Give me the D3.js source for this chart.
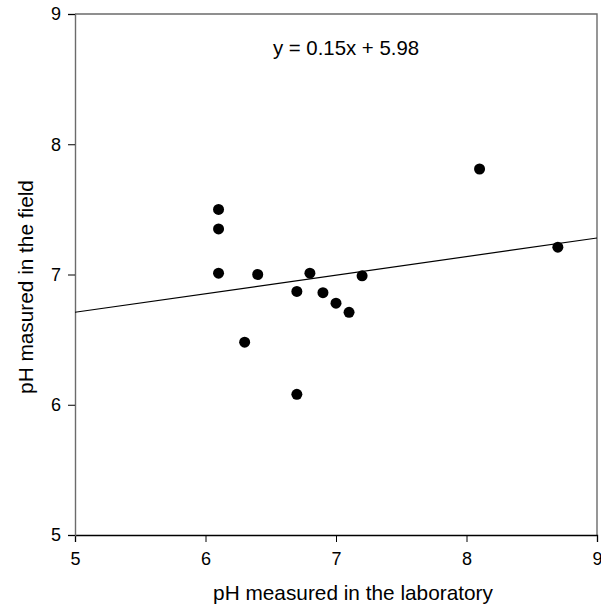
<!DOCTYPE html>
<html>
<head>
<meta charset="utf-8">
<script src="https://cdn.jsdelivr.net/npm/d3@7"></script>
<style>
  body { margin: 0; background: #fff; }
  svg { display: block; font-family: "Liberation Sans", Arial, sans-serif; }
</style>
</head>
<body>
<div class="js-chart"></div>
<script>
'use strict';

// lab pH vs field pH
var labPH   = [6.1, 6.1, 6.1, 6.4, 6.8, 7.2, 6.7, 6.9, 7.0, 7.1, 6.3, 6.7, 8.1, 8.7];
var fieldPH = [7.50, 7.35, 7.01, 7.00, 7.01, 6.99, 6.87, 6.86, 6.78, 6.71, 6.48, 6.08, 7.81, 7.21];

// fitted line ends, as drawn
var fitX = [5, 9];
var fitY = [6.71, 7.28];

var xTicks = [5, 6, 7, 8, 9];
var yTicks = [5, 6, 7, 8, 9];
var equation = 'y = 0.15x + 5.98';

var dim = { w: 601, h: 609 };
var margin = { top: 14, right: 4, bottom: 74, left: 75 };
var w = dim.w - margin.left - margin.right;
var h = dim.h - margin.top - margin.bottom;

var svg = d3.select('.js-chart').append('svg')
    .attr('width', dim.w)
    .attr('height', dim.h);
var vis = svg.append('g')
    .attr('transform', 'translate(' + margin.left + ',' + margin.top + ')');

var x = d3.scaleLinear().domain([5, 9]).range([0, w]);
var y = d3.scaleLinear().domain([5, 9]).range([h, 0]);

//frame top & right
vis.append('path')
    .attr('d', 'M0,0H' + w + 'V' + h)
    .style('fill', 'none')
    .style('stroke', '#6b6b6b')
    .style('stroke-width', 1.4);

//axes
var xAxis = vis.append('g')
    .attr('transform', 'translate(0,' + h + ')')
    .call(d3.axisBottom(x).tickValues(xTicks).tickFormat(d3.format('d')).tickSize(7).tickPadding(10));
var yAxis = vis.append('g')
    .call(d3.axisLeft(y).tickValues(yTicks).tickFormat(d3.format('d')).tickSize(7).tickPadding(7));

xAxis.select('.domain').style('stroke', '#000').style('stroke-width', 1.3);
yAxis.select('.domain').style('stroke', '#6b6b6b').style('stroke-width', 1.4);
svg.selectAll('.tick line').style('stroke', '#000');
svg.selectAll('.tick text')
    .style('font-size', '18px')
    .style('font-family', '"Liberation Sans", Arial, sans-serif')
    .style('fill', '#000');

//fit line
var fit = fitX.map(function (d, i) { return [d, fitY[i]]; });
vis.append('path')
    .datum(fit)
    .attr('d', d3.line().x(function (d) { return x(d[0]); }).y(function (d) { return y(d[1]); }))
    .style('fill', 'none')
    .style('stroke', '#000')
    .style('stroke-width', 1.2);

//points
vis.selectAll('.js-pt')
    .data(labPH)
    .enter()
    .append('circle')
    .attr('class', 'js-pt')
    .attr('cx', function (d) { return x(d); })
    .attr('cy', function (d, i) { return y(fieldPH[i]); })
    .attr('r', 5.5)
    .style('fill', '#000');

//equation
vis.append('text')
    .attr('x', 346 - margin.left)
    .attr('y', 55 - margin.top)
    .attr('text-anchor', 'middle')
    .style('font-size', '20.4px')
    .text(equation);

//axis titles
svg.append('text')
    .attr('x', 353)
    .attr('y', 600)
    .attr('text-anchor', 'middle')
    .style('font-size', '20.8px')
    .text('pH measured in the laboratory');

svg.append('text')
    .attr('transform', 'translate(33,287) rotate(-90)')
    .attr('text-anchor', 'middle')
    .style('font-size', '20.8px')
    .text('pH masured in the field');
</script>
</body>
</html>
